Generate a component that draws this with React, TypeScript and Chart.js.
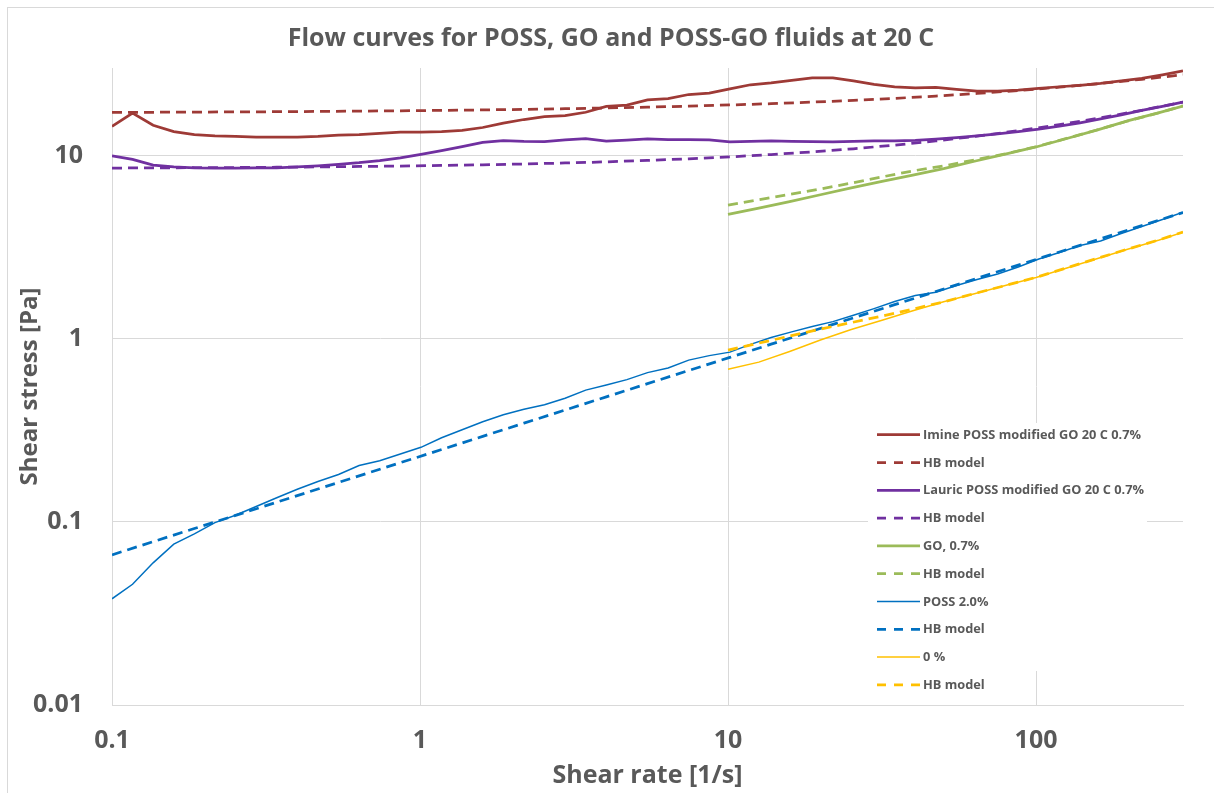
import React, { useEffect, useRef } from 'react';
import { Chart, registerables } from 'chart.js';

Chart.register(...registerables);

// Shear rate grids [1/s]
const shearRate = [0.1, 0.1166, 0.136, 0.1587, 0.1851, 0.2159, 0.2518, 0.2937, 0.3426, 0.3996, 0.4662, 0.5437, 0.6342, 0.7398, 0.8633, 1.007, 1.175, 1.37, 1.598, 1.864, 2.175, 2.536, 2.958, 3.451, 4.026, 4.696, 5.478, 6.389, 7.452, 8.692, 10.14, 11.83, 13.8, 16.09, 18.77, 21.9, 25.54, 29.79, 34.75, 40.54, 47.29, 55.16, 64.33, 75.05, 87.54, 102.1, 119.1, 138.9, 162, 189, 220.5, 257.2, 300];
const modelRate = [0.1, 0.136, 0.1851, 0.2518, 0.3426, 0.4662, 0.6342, 0.8633, 1.175, 1.598, 2.175, 2.958, 4.026, 5.478, 7.452, 10.14, 13.8, 18.77, 25.54, 34.75, 47.29, 64.33, 87.54, 119.1, 162, 220.5, 300];
const highRate = [10, 12.59, 15.85, 19.95, 25.12, 31.62, 39.81, 50.12, 63.1, 79.43, 100, 125.9, 158.5, 199.5, 251.2, 300];

// Shear stress [Pa]
const imineStress = [14.4, 17.0, 14.6, 13.5, 13.0, 12.8, 12.7, 12.6, 12.6, 12.6, 12.7, 12.9, 13.0, 13.2, 13.4, 13.4, 13.5, 13.7, 14.2, 15.0, 15.7, 16.3, 16.5, 17.2, 18.5, 18.8, 20.1, 20.4, 21.5, 21.9, 23.1, 24.3, 24.9, 25.7, 26.5, 26.5, 25.5, 24.4, 23.7, 23.4, 23.5, 22.9, 22.4, 22.4, 22.7, 23.2, 23.7, 24.1, 24.7, 25.5, 26.3, 27.5, 28.9];
const imineModel = [17.17, 17.2, 17.24, 17.28, 17.32, 17.38, 17.44, 17.52, 17.61, 17.71, 17.84, 17.98, 18.15, 18.34, 18.58, 18.85, 19.16, 19.54, 19.97, 20.48, 21.08, 21.78, 22.6, 23.57, 24.69, 26.02, 27.57];
const lauricStress = [9.94, 9.51, 8.85, 8.65, 8.56, 8.53, 8.52, 8.54, 8.56, 8.65, 8.78, 8.93, 9.12, 9.37, 9.69, 10.13, 10.61, 11.16, 11.78, 12.05, 11.93, 11.88, 12.15, 12.35, 11.97, 12.12, 12.32, 12.18, 12.2, 12.15, 11.85, 11.93, 12.0, 11.93, 11.88, 11.85, 11.93, 12.0, 12.02, 12.08, 12.26, 12.49, 12.78, 13.11, 13.47, 13.9, 14.44, 15.05, 15.82, 16.64, 17.62, 18.53, 19.56];
const lauricModel = [8.53, 8.55, 8.57, 8.59, 8.62, 8.65, 8.7, 8.75, 8.81, 8.89, 8.98, 9.09, 9.22, 9.39, 9.58, 9.82, 10.11, 10.45, 10.87, 11.38, 11.99, 12.74, 13.64, 14.72, 16.04, 17.63, 19.55];
const goStress = [4.76, 5.16, 5.6, 6.1, 6.65, 7.22, 7.8, 8.47, 9.29, 10.17, 11.12, 12.37, 13.78, 15.47, 17.13, 18.6];
const goModel = [5.36, 5.73, 6.12, 6.56, 7.06, 7.63, 8.23, 8.76, 9.45, 10.19, 11.15, 12.4, 13.8, 15.45, 17.1, 18.65];
const possStress = [0.038, 0.0456, 0.0597, 0.0755, 0.086, 0.099, 0.1085, 0.1213, 0.1353, 0.1505, 0.1658, 0.1811, 0.2028, 0.2154, 0.2347, 0.255, 0.2877, 0.3183, 0.352, 0.3843, 0.4119, 0.4358, 0.473, 0.5232, 0.5585, 0.597, 0.6521, 0.6918, 0.7631, 0.8075, 0.8437, 0.9296, 1.013, 1.088, 1.163, 1.238, 1.341, 1.458, 1.593, 1.718, 1.791, 1.948, 2.101, 2.252, 2.459, 2.719, 2.951, 3.223, 3.411, 3.749, 4.093, 4.47, 4.9];
const possModel = [0.066, 0.0779, 0.0919, 0.1084, 0.1279, 0.151, 0.1781, 0.2102, 0.248, 0.2927, 0.3455, 0.4076, 0.481, 0.5675, 0.6697, 0.79, 0.9324, 1.1, 1.298, 1.532, 1.808, 2.134, 2.517, 2.971, 3.505, 4.136, 4.88];
const zeroStress = [0.681, 0.744, 0.851, 0.982, 1.12, 1.26, 1.419, 1.591, 1.759, 1.948, 2.154, 2.428, 2.736, 3.084, 3.453, 3.81];
const zeroModel = [0.865, 0.945, 1.032, 1.127, 1.223, 1.327, 1.449, 1.587, 1.762, 1.948, 2.16, 2.435, 2.745, 3.09, 3.46, 3.82];

const xTicks = [0.1, 1, 10, 100];
const yTicks = [0.01, 0.1, 1, 10];

const seriesLabels = [
  'Imine POSS modified GO 20 C 0.7%', 'HB model',
  'Lauric POSS modified GO 20 C 0.7%', 'HB model',
  'GO, 0.7%', 'HB model',
  'POSS 2.0%', 'HB model',
  '0 %', 'HB model',
];
const seriesX = [shearRate, modelRate, shearRate, modelRate, highRate, highRate, shearRate, modelRate, highRate, highRate];
const seriesY = [imineStress, imineModel, lauricStress, lauricModel, goStress, goModel, possStress, possModel, zeroStress, zeroModel];
const seriesColors = ['#9e3a36', '#9e3a36', '#7030a0', '#7030a0', '#9bbb59', '#9bbb59', '#0070c0', '#0070c0', '#ffc000', '#ffc000'];
const seriesDashed = [false, true, false, true, false, true, false, true, false, true];
const seriesWidths = [2.75, 2.75, 2.75, 2.75, 2.75, 2.75, 1.5, 2.75, 1.5, 2.75];

const TITLE = 'Flow curves for POSS, GO and POSS-GO fluids at 20 C';
const X_TITLE = 'Shear rate [1/s]';
const Y_TITLE = 'Shear stress [Pa]';
const TEXT = '#595959';
const GRID = '#d9d9d9';
const FONT = '"Open Sans"';

const insideLegend = {
  id: 'insideLegend',
  afterDraw(chart: any) {
    const ctx = chart.ctx;
    const { left, top } = chart.chartArea;
    const bx = left + 756;
    const by = top + 355;
    ctx.save();
    ctx.fillStyle = '#ffffff';
    ctx.fillRect(bx, by, 279, 248);
    ctx.font = `bold 12.8px ${FONT}`;
    ctx.textBaseline = 'middle';
    ctx.textAlign = 'left';
    seriesLabels.forEach((label, i) => {
      const y = top + 366.7 + i * 27.8;
      ctx.beginPath();
      ctx.setLineDash(seriesDashed[i] ? [9, 8] : []);
      ctx.lineWidth = seriesWidths[i];
      ctx.strokeStyle = seriesColors[i];
      ctx.moveTo(left + 765, y);
      ctx.lineTo(left + 808, y);
      ctx.stroke();
      ctx.setLineDash([]);
      ctx.fillStyle = TEXT;
      ctx.fillText(label, left + 811, y + 0.5);
    });
    ctx.restore();
  },
};

export default function App() {
  const ref = useRef<HTMLCanvasElement>(null);

  useEffect(() => {
    if (!ref.current) return;
    const datasets = seriesLabels.map((label, i) => ({
      label,
      data: seriesX[i].map((x, j) => ({ x, y: seriesY[i][j] })),
      borderColor: seriesColors[i],
      backgroundColor: seriesColors[i],
      borderWidth: seriesWidths[i],
      borderDash: seriesDashed[i] ? [10, 6] : [],
      pointRadius: 0,
      showLine: true,
      tension: 0,
      fill: false,
      order: 9 - i,
      yAxisID: 'y',
    }));

    const chart = new Chart(ref.current, {
      type: 'scatter',
      data: { datasets },
      plugins: [insideLegend],
      options: {
        animation: false,
        responsive: true,
        maintainAspectRatio: false,
        layout: { padding: 0 },
        plugins: {
          legend: { display: false },
          tooltip: { enabled: false },
          title: {
            display: true,
            text: TITLE,
            color: TEXT,
            font: { family: FONT, size: 25, weight: 'bold', lineHeight: 1.2 },
            padding: { top: 15.5, bottom: 14.5 },
          },
        },
        scales: {
          x: {
            type: 'logarithmic',
            min: 0.1,
            max: 300,
            afterBuildTicks: (s: any) => { s.ticks = xTicks.map((v) => ({ value: v })); },
            afterFit: (s: any) => { s.height = 88; },
            ticks: {
              color: TEXT,
              font: { family: FONT, size: 25, weight: 'bold', lineHeight: 1.2 },
              padding: 21,
              autoSkip: false,
              maxRotation: 0,
              callback: (v: any) => String(v),
            },
            grid: { color: GRID, lineWidth: 1, drawTicks: false },
            border: { display: true, color: GRID, width: 1 },
            title: {
              display: true,
              text: X_TITLE,
              color: TEXT,
              font: { family: FONT, size: 25, weight: 'bold', lineHeight: 1.2 },
              padding: { top: 0, bottom: 2.5 },
            },
          },
          y: {
            type: 'logarithmic',
            position: 'left',
            min: 0.01,
            max: 30,
            afterBuildTicks: (s: any) => { s.ticks = yTicks.map((v) => ({ value: v })); },
            afterFit: (s: any) => { s.width = 104; },
            ticks: {
              color: TEXT,
              font: { family: FONT, size: 25, weight: 'bold', lineHeight: 1.2 },
              padding: 29,
              autoSkip: false,
              callback: (v: any) => String(v),
            },
            grid: { color: GRID, lineWidth: 1, drawTicks: false },
            border: { display: true, color: GRID, width: 1 },
            title: {
              display: true,
              text: Y_TITLE,
              color: TEXT,
              font: { family: FONT, size: 24, weight: 'bold', lineHeight: 1.2 },
              padding: { top: 7.5, bottom: 0 },
            },
          },
          // empty right-hand spacer so the plot stops short of the canvas edge
          yRight: {
            type: 'linear',
            position: 'right',
            display: true,
            afterFit: (s: any) => { s.width = 31; },
            ticks: { display: false },
            grid: { display: false, drawTicks: false },
            border: { display: false },
            title: { display: false },
          },
        },
      } as any,
    });
    return () => chart.destroy();
  }, []);

  return (
    <div style={{ position: 'fixed', left: 8, top: 8, width: 1206, height: 785, background: '#ffffff' }}>
      <div
        style={{
          position: 'absolute',
          left: -1,
          top: -1,
          width: 1207,
          height: 786,
          borderTop: `1px solid ${GRID}`,
          borderLeft: `1px solid ${GRID}`,
          boxSizing: 'border-box',
          pointerEvents: 'none',
        }}
      />
      <canvas ref={ref} />
    </div>
  );
}
